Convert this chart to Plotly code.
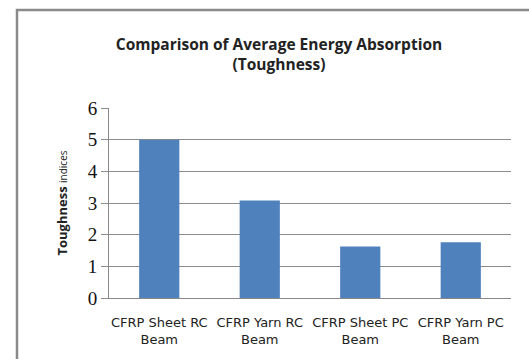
import plotly.graph_objects as go

categories = ["CFRP Sheet RC<br>Beam", "CFRP Yarn RC<br>Beam", "CFRP Sheet PC<br>Beam", "CFRP Yarn PC<br>Beam"]
values = [5.0, 3.08, 1.63, 1.76]
y_ticks = [0, 1, 2, 3, 4, 5, 6]

fig = go.Figure()
fig.add_trace(go.Bar(x=categories, y=values, marker=dict(color="#4f81bd", line=dict(color="#4f81bd", width=0)), width=0.4))

L, R, T, B = 109, 18, 108, 59
W, H = 529, 359
pw, ph = W - L - R, H - T - B

fig.update_layout(
    width=W, height=H,
    margin=dict(l=L, r=R, t=T, b=B),
    paper_bgcolor="white", plot_bgcolor="white",
    showlegend=False,
    title=dict(text="<b>Comparison of Average Energy Absorption<br>(Toughness)</b>",
               x=(279) / W, xanchor="center", y=1 - 50 / H, yanchor="top",
               font=dict(family="Open Sans", size=15.5, color="#222")),
    xaxis=dict(showgrid=False, showline=True, linecolor="#888", linewidth=1,
               ticks="", tickfont=dict(family="DejaVu Sans", size=13, color="#222"),
               ticklabelstandoff=12, range=[-0.5, 3.5]),
    yaxis=dict(range=[0, 6], tickvals=y_ticks, showgrid=True, gridcolor="#8c8c8c", gridwidth=1,
               showline=True, linecolor="#888", linewidth=1, ticks="outside", ticklen=7, tickcolor="#8c8c8c",
               zeroline=False, tickfont=dict(family="Liberation Serif", size=19, color="#111"),
               title=dict(text="<b>Toughness</b> <span style='font-size:10px'>indices</span>",
                          font=dict(family="Open Sans", size=13, color="#222"), standoff=17)),
    shapes=[dict(type="rect", xref="paper", yref="paper",
                 x0=(17 - L) / pw, x1=1 + (R + 20) / pw,
                 y0=-(B + 20) / ph, y1=1 + (T - 9) / ph,
                 line=dict(color="#8a8a8a", width=2.5), fillcolor="rgba(0,0,0,0)", layer="below")],
)

fig.write_html("out.html", config={"displayModeBar": False},
               post_script="document.body.style.margin='0';document.body.style.overflow='hidden';")
